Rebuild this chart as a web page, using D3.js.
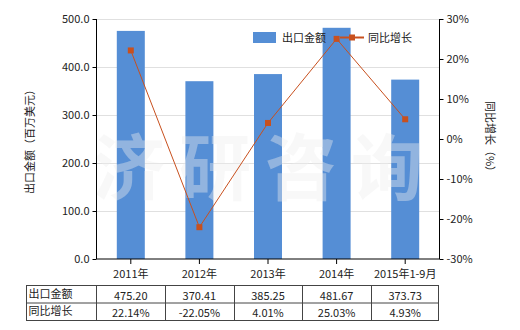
<!DOCTYPE html>
<html>
  <head>
    <meta charset="utf-8">
    <script src="https://cdn.jsdelivr.net/npm/d3@7"></script>
    <style>
      body { margin: 0; background: #fff; }
      text { font-family: "Noto Sans CJK SC", "Noto Sans", sans-serif; font-size: 11px; fill: #222; }
    </style>
  </head>
  <body>
    <script>

// data
var years = ["2011年", "2012年", "2013年", "2014年", "2015年1-9月"];
var exportValues = [475.20, 370.41, 385.25, 481.67, 373.73];
var growth = [22.14, -22.05, 4.01, 25.03, 4.93];
var leftTicks = [0, 100, 200, 300, 400, 500];
var rightTicks = [-30, -20, -10, 0, 10, 20, 30];

var w = 520, h = 330;
// plot box (window.top is taken, so use px* names)
var pxLeft = 96.5, pxRight = 439.5, pxTop = 19, pxBottom = 259;
var barColor = "#558ed5";
var lineColor = "#c8501e";

var svg = d3.select("body").append("svg")
  .attr("width", w)
  .attr("height", h);

var xScale = d3.scaleBand()
  .domain(years)
  .range([pxLeft, pxRight]);

var yScale = d3.scaleLinear()
  .domain([0, 500])
  .range([pxBottom, pxTop]);

var y2Scale = d3.scaleLinear()
  .domain([-30, 30])
  .range([pxBottom, pxTop]);

// grid lines
svg.selectAll(".grid")
   .data(leftTicks.slice(1))
   .enter()
   .append("line")
   .attr("x1", pxLeft)
   .attr("x2", pxRight)
   .attr("y1", function(d){ return Math.round(yScale(d)) + 0.5; })
   .attr("y2", function(d){ return Math.round(yScale(d)) + 0.5; })
   .attr("stroke", "#e0e0e0");

// bars
var barW = 28;
svg.selectAll("rect.bar")
   .data(exportValues)
   .enter()
   .append("rect")
   .attr("class", "bar")
   .attr("x", function(d, i){ return xScale(years[i]) + xScale.bandwidth() / 2 - barW / 2; })
   .attr("y", function(d){ return yScale(d); })
   .attr("width", barW)
   .attr("height", function(d){ return pxBottom - yScale(d); })
   .attr("fill", barColor);

// watermark
svg.append("text")
   .attr("x", 93)
   .attr("y", 194)
   .style("font-size", "72px")
   .style("font-weight", "bold")
   .style("letter-spacing", "14px")
   .style("fill", "#eee")
   .style("fill-opacity", 0.4)
   .text("济研咨询");

// growth line
var line = d3.line()
  .x(function(d, i){ return xScale(years[i]) + xScale.bandwidth() / 2; })
  .y(function(d){ return y2Scale(d); });

svg.append("path")
   .datum(growth)
   .attr("d", line)
   .attr("fill", "none")
   .attr("stroke", lineColor)
   .attr("stroke-width", 1);

svg.selectAll("rect.pt")
   .data(growth)
   .enter()
   .append("rect")
   .attr("class", "pt")
   .attr("x", function(d, i){ return xScale(years[i]) + xScale.bandwidth() / 2 - 3; })
   .attr("y", function(d){ return y2Scale(d) - 3; })
   .attr("width", 6)
   .attr("height", 6)
   .attr("fill", lineColor);

// axes
var yAxis = d3.axisLeft(yScale)
  .tickValues(leftTicks)
  .tickSize(4)
  .tickFormat(d3.format(".1f"));
var y2Axis = d3.axisRight(y2Scale)
  .tickValues(rightTicks)
  .tickSize(4)
  .tickFormat(function(d){ return d + "%"; });
var xAxis = d3.axisBottom(xScale)
  .tickSize(5)
  .tickPadding(6);

var gy = svg.append("g")
   .attr("transform", "translate(" + pxLeft + ",0)")
   .call(yAxis);
var gy2 = svg.append("g")
   .attr("transform", "translate(" + pxRight + ",0)")
   .call(y2Axis);
var gx = svg.append("g")
   .attr("transform", "translate(0," + pxBottom + ")")
   .call(xAxis);

[gy, gy2, gx].forEach(function(g){
  g.select(".domain").attr("stroke", "#000");
  g.selectAll(".tick line").attr("stroke", "#000");
  g.selectAll("text").style("font-family", "\"Noto Sans CJK SC\", sans-serif").style("font-size", "11px").attr("fill", "#222");
});
gy.selectAll(".domain").attr("d", "M0," + pxTop + "V" + pxBottom);
gy2.selectAll(".domain").attr("d", "M0," + pxTop + "V" + pxBottom);
gx.selectAll(".domain").attr("d", "M" + pxLeft + ",0H" + pxRight);

// axis titles
svg.append("text")
   .attr("transform", "translate(34,139) rotate(-90)")
   .attr("text-anchor", "middle")
   .text("出口金额（百万美元）");
svg.append("text")
   .attr("transform", "translate(486,139) rotate(90)")
   .attr("text-anchor", "middle")
   .text("同比增长（%）");

// legend
svg.append("rect")
   .attr("x", 253).attr("y", 32)
   .attr("width", 23).attr("height", 11)
   .attr("fill", barColor);
svg.append("text")
   .attr("x", 282).attr("y", 42)
   .text("出口金额");
svg.append("line")
   .attr("x1", 340).attr("x2", 364)
   .attr("y1", 37.5).attr("y2", 37.5)
   .attr("stroke", lineColor)
   .attr("stroke-width", 2);
svg.append("rect")
   .attr("x", 349).attr("y", 34.5)
   .attr("width", 6).attr("height", 6)
   .attr("fill", lineColor);
svg.append("text")
   .attr("x", 368).attr("y", 42)
   .text("同比增长");

// data table
var tTop = 285.5, rowH = 17.5, tLeft = 26.5;
var rows = [
  { name: "出口金额", vals: exportValues.map(function(d){ return d.toFixed(2); }) },
  { name: "同比增长", vals: growth.map(function(d){ return d.toFixed(2) + "%"; }) }
];
var table = svg.append("g");
table.append("rect")
   .attr("x", tLeft).attr("y", tTop)
   .attr("width", pxRight - tLeft - 1).attr("height", rowH * 2)
   .attr("fill", "none").attr("stroke", "#444");
table.append("line")
   .attr("x1", tLeft).attr("x2", pxRight - 1)
   .attr("y1", tTop + rowH).attr("y2", tTop + rowH)
   .attr("stroke", "#444");
var colEdges = [pxLeft].concat(years.slice(1).map(function(y){ return Math.round(xScale(y)) + 0.5; }));
table.selectAll("line.col")
   .data(colEdges)
   .enter()
   .append("line")
   .attr("x1", function(d){ return d; })
   .attr("x2", function(d){ return d; })
   .attr("y1", tTop).attr("y2", tTop + rowH * 2)
   .attr("stroke", "#444");
rows.forEach(function(r, ri){
  var ty = tTop + rowH * ri + 13;
  table.append("text").attr("x", tLeft + 2).attr("y", ty - 1).text(r.name);
  r.vals.forEach(function(v, i){
    table.append("text")
      .attr("x", xScale(years[i]) + xScale.bandwidth() / 2)
      .attr("y", ty + 1)
      .attr("text-anchor", "middle")
      .text(v);
  });
});

    </script>
  </body>
</html>
